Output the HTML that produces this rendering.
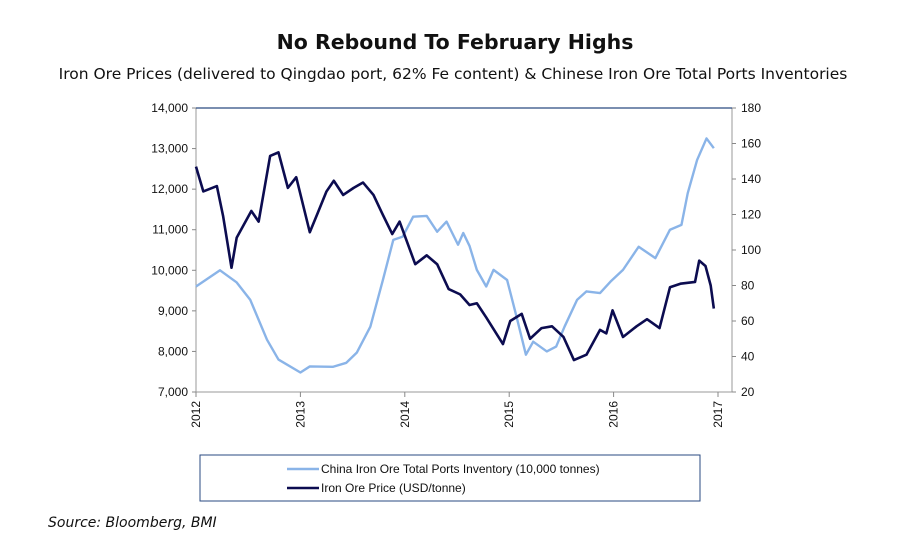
<!DOCTYPE html>
<html><head><meta charset="utf-8"><style>
body{margin:0;background:#fff;width:900px;height:552px;overflow:hidden;font-family:"Liberation Sans",sans-serif}
</style></head><body>
<svg id="chart" width="900" height="552">
<text x="455" y="49" text-anchor="middle" font-size="20.5" font-weight="bold" fill="#111" font-family="DejaVu Sans, sans-serif">No Rebound To February Highs</text>
<text x="453" y="79" text-anchor="middle" font-size="15.5" fill="#111" font-family="DejaVu Sans, sans-serif">Iron Ore Prices (delivered to Qingdao port, 62% Fe content) &amp; Chinese Iron Ore Total Ports Inventories</text>
<rect x="196" y="108" width="536" height="284" fill="none" stroke="#999"/>
<line x1="196" y1="108" x2="732" y2="108" stroke="#2a4a80" stroke-width="1.2"/>
<g id="axes"></g>
<g id="series"></g>
<rect x="200" y="455" width="500" height="46" fill="none" stroke="#2a4a80"/>
<g><line x1="287" y1="469" x2="319" y2="469" stroke="#8ab4e8" stroke-width="2.5"/><text x="321" y="473" font-size="12" fill="#111">China Iron Ore Total Ports Inventory (10,000 tonnes)</text></g>
<g><line x1="287" y1="488" x2="319" y2="488" stroke="#0c0c50" stroke-width="2.5"/><text x="321" y="492" font-size="12" fill="#111">Iron Ore Price (USD/tonne)</text></g>
<text x="48" y="527" font-size="14" font-style="italic" fill="#111" font-family="DejaVu Sans, sans-serif">Source: Bloomberg, BMI</text>
</svg>
<script>
const leftTicks=[7000,8000,9000,10000,11000,12000,13000,14000];
const rightTicks=[20,40,60,80,100,120,140,160,180];
const yearTicks=[2012,2013,2014,2015,2016,2017];
const invT=[2012.0,2012.23,2012.39,2012.52,2012.68,2012.79,2013.0,2013.09,2013.31,2013.44,2013.54,2013.67,2013.79,2013.89,2013.98,2014.08,2014.21,2014.31,2014.40,2014.51,2014.56,2014.62,2014.69,2014.78,2014.85,2014.98,2015.07,2015.16,2015.23,2015.36,2015.45,2015.53,2015.65,2015.74,2015.87,2015.97,2016.09,2016.24,2016.40,2016.54,2016.65,2016.71,2016.80,2016.89,2016.96];
const invV=[9600,10000,9700,9270,8290,7800,7480,7630,7620,7720,7970,8610,9760,10750,10830,11320,11340,10950,11200,10630,10920,10600,10010,9600,10010,9760,8860,7920,8240,8000,8120,8610,9270,9480,9440,9720,10010,10580,10300,11000,11120,11900,12720,13250,13010];
const priceT=[2012.0,2012.07,2012.20,2012.26,2012.34,2012.39,2012.53,2012.60,2012.71,2012.79,2012.88,2012.96,2013.09,2013.16,2013.25,2013.32,2013.41,2013.51,2013.60,2013.70,2013.78,2013.88,2013.95,2014.10,2014.21,2014.31,2014.42,2014.53,2014.62,2014.69,2014.78,2014.94,2015.01,2015.12,2015.20,2015.31,2015.41,2015.52,2015.62,2015.74,2015.87,2015.93,2015.99,2016.09,2016.22,2016.32,2016.44,2016.54,2016.64,2016.78,2016.82,2016.88,2016.93,2016.96];
const priceV=[147,133,136,119,90,107,122,116,153,155,135,141,110,120,133,139,131,135,138,131,121,109,116,92,97,92,78,75,69,70,62,47,60,64,50,56,57,51,38,41,55,53,66,51,57,61,56,79,81,82,94,91,80,67];
const NS="http://www.w3.org/2000/svg";
const X0=196,X1=718,YT=108,YB=392;
const xs=t=>X0+(t-2012)/5*(X1-X0);
const yl=v=>YB-(v-7000)/7000*(YB-YT);
const yr=v=>YB-(v-20)/160*(YB-YT);
function mk(tag,attrs,parent,txt){const e=document.createElementNS(NS,tag);for(const k in attrs)e.setAttribute(k,attrs[k]);if(txt!==undefined)e.textContent=txt;parent.appendChild(e);return e;}
const ax=document.getElementById('axes');
leftTicks.forEach(v=>{const y=yl(v);
 mk('line',{x1:X0-4,y1:y,x2:X0,y2:y,stroke:'#888'},ax);
 const t=mk('text',{x:X0-8,y:y+4,'text-anchor':'end','font-size':12,fill:'#111'},ax,v.toLocaleString('en-US'));
 
 });
rightTicks.forEach(v=>{const y=yr(v);
 mk('line',{x1:732,y1:y,x2:736,y2:y,stroke:'#888'},ax);
 const t=mk('text',{x:741,y:y+4,'font-size':12,fill:'#111'},ax,String(v));
 
 });
yearTicks.forEach(v=>{const x=xs(v);
 mk('line',{x1:x,y1:YB,x2:x,y2:YB+5,stroke:'#888'},ax);
 const t=mk('text',{x:0,y:0,'text-anchor':'end','font-size':12,fill:'#111',transform:`translate(${x+4},${YB+9}) rotate(-90)`},ax,String(v));
 
 });
const sg=document.getElementById('series');
const inv=mk('polyline',{points:invT.map((t,i)=>xs(t)+','+yl(invV[i])).join(' '),fill:'none',stroke:'#8ab4e8','stroke-width':2.4,'stroke-linejoin':'round'},sg);


const pr=mk('polyline',{points:priceT.map((t,i)=>xs(t)+','+yr(priceV[i])).join(' '),fill:'none',stroke:'#0c0c50','stroke-width':2.6,'stroke-linejoin':'round'},sg);


</script>
</body></html>
